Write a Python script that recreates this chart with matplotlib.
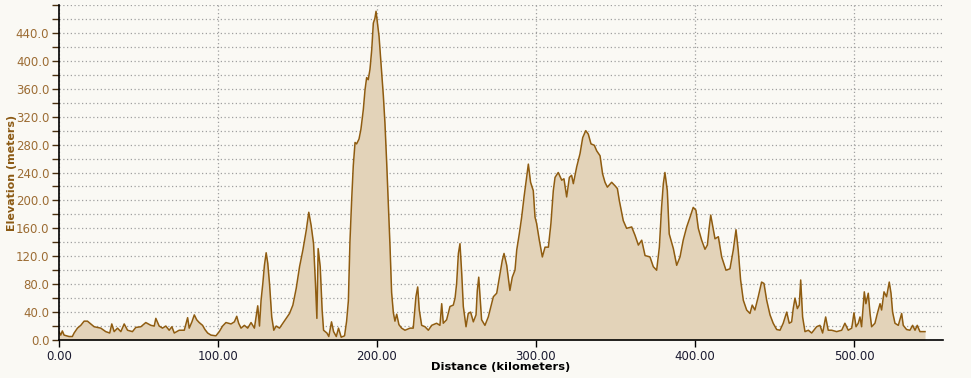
import numpy as np
import matplotlib.pyplot as plt
from matplotlib.ticker import MultipleLocator, FuncFormatter

# distance (km) and elevation (m)
dist_km = [
    0.0, 1.1, 2.1, 3.2, 6.3, 8.4, 9.5, 11.6, 13.7, 15.8, 17.9, 20.0, 22.1, 24.2,
    26.3, 29.4, 31.9, 33.2, 34.7, 36.8, 38.9, 41.0, 43.1, 46.2, 48.3, 51.5, 54.6,
    57.8, 59.9, 60.9, 63.0, 65.1, 67.2, 69.3, 71.0, 72.5, 75.6, 78.8, 80.9, 81.9,
    83.6, 85.1, 86.6, 88.2, 90.3, 91.8, 93.5, 95.6, 98.7, 100.8, 102.9, 105.0,
    108.2, 110.3, 111.8, 113.0, 114.5, 116.6, 118.7, 120.8, 122.9, 125.0, 126.1,
    127.1, 128.2, 129.2, 130.3, 131.3, 132.4, 133.8, 135.1, 136.6, 138.7, 140.8,
    142.9, 145.0, 147.1, 149.2, 151.3, 153.4, 155.5, 157.1, 158.6, 160.1, 161.3,
    162.2, 163.0, 164.3, 165.5, 166.4, 168.5, 169.7, 171.4, 172.7, 174.4, 175.8,
    177.5, 179.6, 180.9, 182.0, 183.0, 184.1, 185.1, 186.2, 187.2, 188.7, 189.9,
    191.4, 192.5, 193.5, 194.5, 195.6, 196.7, 197.7, 198.7, 199.4, 200.4, 201.3,
    202.5, 204.0, 205.0, 206.1, 207.1, 208.2, 209.2, 210.3, 211.3, 212.4, 213.8,
    215.5, 217.6, 220.8, 222.8, 224.5, 225.6, 226.6, 228.1, 230.2, 232.3, 234.4,
    237.5, 239.6, 240.7, 241.7, 243.8, 245.9, 248.0, 249.1, 250.1, 251.2, 252.2,
    253.3, 254.3, 256.0, 257.4, 258.9, 260.6, 262.3, 263.1, 264.0, 264.8, 265.8,
    267.9, 270.0, 272.1, 273.2, 275.3, 277.4, 278.8, 279.9, 281.6, 283.6, 285.1,
    286.8, 287.9, 289.5, 291.0, 292.5, 294.1, 295.2, 296.6, 298.3, 299.4, 300.4,
    302.1, 304.0, 305.7, 307.8, 309.4, 310.9, 312.0, 314.0, 316.2, 317.6, 319.3,
    321.0, 322.4, 323.5, 325.6, 327.7, 329.4, 331.3, 332.9, 334.6, 336.7, 338.2,
    340.3, 341.9, 343.4, 344.9, 347.6, 349.7, 351.2, 352.4, 354.9, 357.0, 360.2,
    362.3, 364.4, 366.5, 368.6, 371.7, 373.8, 375.9, 377.6, 379.0, 380.1, 381.1,
    382.6, 383.8, 386.4, 388.5, 390.6, 392.6, 394.8, 396.9, 398.9, 400.6, 402.1,
    404.2, 406.3, 407.8, 409.0, 409.9, 411.1, 412.6, 414.7, 416.8, 419.5, 422.0,
    424.1, 425.8, 427.2, 428.7, 430.4, 432.5, 434.6, 436.0, 437.7, 439.8, 441.9,
    443.4, 445.1, 447.2, 449.2, 451.4, 453.5, 455.5, 457.7, 459.3, 460.8, 461.8,
    462.9, 464.4, 465.6, 466.5, 467.7, 469.2, 471.3, 473.4, 476.5, 478.6, 480.3,
    482.2, 483.8, 486.0, 489.1, 492.3, 494.3, 496.4, 498.6, 500.0, 501.3, 502.7,
    503.8, 504.8, 506.5, 507.5, 509.0, 510.1, 511.1, 513.2, 514.7, 516.4, 517.4,
    518.9, 520.5, 522.2, 523.3, 524.3, 525.8, 527.9, 530.0, 531.0, 533.1, 535.2,
    536.9, 538.4, 539.8, 541.5, 544.7,
]
elev_m = [
    12, 7, 13, 7, 5, 5, 10, 17, 21, 27, 27, 23, 19, 18,
    17, 12, 10, 23, 12, 17, 12, 23, 14, 12, 18, 19, 25,
    21, 20, 31, 20, 17, 20, 14, 19, 10, 14, 14, 32, 17,
    26, 36, 29, 25, 21, 15, 10, 7, 6, 12, 20, 25,
    23, 26, 34, 24, 17, 21, 17, 25, 17, 49, 20,
    57, 81, 107, 125, 110, 81, 33, 14, 20, 17, 24,
    31, 38, 50, 74, 105, 129, 157, 183, 164, 138, 81,
    31, 131, 105, 43, 14, 10, 5, 26, 12, 5, 17,
    4, 6, 27, 56, 141, 202, 250, 283, 281, 288, 302,
    330, 359, 376, 373, 388, 416, 454, 461, 471, 452, 435,
    397, 350, 311, 254, 197, 134, 68, 39, 27, 37, 22,
    17, 14, 17, 17, 62, 76, 43, 21, 19, 14, 21,
    24, 21, 52, 24, 29, 48, 50, 60, 81, 124, 138,
    95, 48, 19, 38, 40, 26, 36, 71, 90, 62, 29,
    21, 33, 52, 62, 67, 95, 114, 124, 107, 71, 90,
    100, 129, 152, 176, 205, 233, 252, 226, 214, 176, 167,
    143, 119, 133, 133, 167, 214, 233, 240, 229, 231, 205,
    233, 236, 224, 248, 267, 290, 300, 295, 281, 279, 271,
    264, 238, 226, 219, 226, 221, 217, 200, 171, 160, 162,
    150, 136, 143, 121, 119, 105, 100, 133, 190, 224, 240,
    214, 152, 131, 107, 119, 143, 162, 176, 190, 186, 160,
    143, 130, 136, 162, 179, 164, 145, 148, 119, 100, 102,
    129, 158, 129, 86, 57, 43, 38, 50, 43, 62, 83,
    81, 57, 36, 24, 15, 14, 24, 40, 24, 26, 45,
    60, 45, 50, 86, 33, 12, 14, 10, 19, 21, 10,
    33, 14, 14, 12, 14, 24, 14, 17, 39, 19, 24,
    33, 19, 69, 52, 67, 38, 19, 24, 38, 52, 43,
    69, 62, 83, 67, 40, 24, 21, 38, 21, 15, 14,
    21, 14, 21, 12, 12,
]

bg = "#faf9f4"
line_col = "#8f5c10"
fill_col = "#e3d3b9"

fig = plt.figure(figsize=(9.71, 3.78), dpi=100, facecolor=bg)
ax = fig.add_axes([59 / 971, 38 / 378, 884 / 971, 335 / 378], facecolor=bg)

ax.fill_between(dist_km, elev_m, 0, color=fill_col, lw=0, zorder=2)
ax.plot(dist_km, elev_m, color=line_col, lw=1.1, zorder=3)

ax.set_xlim(0, 556)
ax.set_ylim(0, 480)

ax.xaxis.set_major_locator(MultipleLocator(100))
ax.xaxis.set_major_formatter(FuncFormatter(lambda v, p: f"{v:.2f}"))
ax.yaxis.set_major_locator(MultipleLocator(20))
ax.yaxis.set_major_formatter(
    FuncFormatter(lambda v, p: f"{v:.1f}" if round(v) % 40 == 0 and v < 470 else ""))

ax.grid(axis="y", color="#a0a0a0", ls=(0, (1, 2)), lw=0.9, zorder=1)
ax.grid(axis="x", color="#a0a0a0", ls=(0, (1, 2)), lw=0.9, zorder=1)

for s in ["top", "right"]:
    ax.spines[s].set_visible(False)
for s in ["left", "bottom"]:
    ax.spines[s].set_color("black")
    ax.spines[s].set_linewidth(1.2)
    ax.spines[s].set_zorder(4)

ax.tick_params(axis="y", length=5, width=1, color="#4a3010", labelcolor="#9c6c33",
               labelsize=8.5, pad=2)
ax.tick_params(axis="x", length=5, width=1, color="black", labelcolor="#1a1a30",
               labelsize=8.5, pad=2)

ax.set_xlabel("Distance (kilometers)", fontsize=8.2, fontweight="bold", color="black")
ax.set_ylabel("Elevation (meters)", fontsize=8, fontweight="bold", color="#8b5a14")
ax.xaxis.set_label_coords(0.5, -0.066)
ax.yaxis.set_label_coords(-0.048, 0.5)

fig.savefig("out.png", dpi=100, facecolor=bg)
